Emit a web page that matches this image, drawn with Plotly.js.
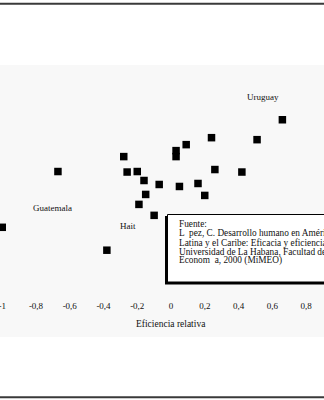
<!DOCTYPE html>
<html>
<head>
<meta charset="utf-8">
<script src="https://cdn.plot.ly/plotly-3.0.1.min.js"></script>
<style>html,body{margin:0;padding:0;background:#fff;}#chart{width:324px;height:400px;}</style>
</head>
<body>
<div id="chart"></div>
<script>
// Eficiencia relativa (x) vs. eficacia (y, arbitrary units)
var eficiencia = [-1.00, -0.67, -0.38, -0.28, -0.26, -0.20, -0.16, -0.15, -0.19, -0.10, -0.07,
                  0.03, 0.03, 0.05, 0.09, 0.16, 0.20, 0.24, 0.26, 0.42, 0.51, 0.66];
var eficacia   = [-0.48, 0.08, -0.71, 0.23, 0.075, 0.08, -0.01, -0.15, -0.25, -0.36, -0.05,
                  0.29, 0.23, -0.07, 0.35, -0.04, -0.16, 0.42, 0.10, 0.075, 0.40, 0.60];
var tickVals   = [-1, -0.8, -0.6, -0.4, -0.2, 0, 0.2, 0.4, 0.6, 0.8];
var tickLabels = ["-1", "-0,8", "-0,6", "-0,4", "-0,2", "0", "0,2", "0,4", "0,6", "0,8"];
var countryLabels = ["Uruguay", "Guatemala", "Hait"];
var sourceLines = [
  "Fuente:",
  "L  pez, C. Desarrollo humano en Am\u00e9rica",
  "Latina y el Caribe: Eficacia y eficiencia",
  "Universidad de La Habana, Facultad de",
  "Econom  a, 2000 (MiMEO)"
];
var axisTitle = "Eficiencia relativa";

// layout geometry (pixels)
var T = 60, B = 299, H = 400;
function py(px) { return (B - px) / (B - T); }
function px2x(p) { return p / 324; }

var serif = "Liberation Serif, Times New Roman, serif";

var annotations = [];
var labelPos = [[0.548, 0.825], [-0.702, -0.289], [-0.255, -0.467]];
countryLabels.forEach(function (t, i) {
  annotations.push({x: labelPos[i][0], y: labelPos[i][1], xref: 'x', yref: 'y', text: t,
    showarrow: false, xanchor: 'center', yanchor: 'middle',
    font: {family: serif, size: 9, color: '#111'}});
});
var lineY = [224, 233.3, 242.5, 251.7, 260.9];
sourceLines.forEach(function (t, i) {
  annotations.push({x: px2x(176.5), y: py(lineY[i]), xref: 'paper', yref: 'paper', text: t,
    showarrow: false, xanchor: 'left', yanchor: 'middle',
    font: {family: serif, size: 9.3, color: '#111'}});
});
annotations.push({x: 0, y: py(323.5), xref: 'x', yref: 'paper', text: axisTitle,
  showarrow: false, xanchor: 'center', yanchor: 'middle',
  font: {family: serif, size: 9.5, color: '#111'}});

var shapes = [
  {type: 'rect', xref: 'paper', yref: 'paper', x0: -0.05, x1: 1.05, y0: py(337), y1: py(65),
   fillcolor: '#f8f8f8', line: {width: 0}, layer: 'below'},
  {type: 'line', xref: 'paper', yref: 'paper', x0: -0.05, x1: 1.05, y0: py(3.7), y1: py(3.7),
   line: {color: '#3a3a3a', width: 2}},
  {type: 'line', xref: 'paper', yref: 'paper', x0: -0.05, x1: 1.05, y0: py(397.3), y1: py(397.3),
   line: {color: '#3a3a3a', width: 2}},
  {type: 'rect', xref: 'paper', yref: 'paper', x0: px2x(165), x1: px2x(340), y0: py(284.5), y1: py(216),
   fillcolor: '#000', line: {width: 0}},
  {type: 'rect', xref: 'paper', yref: 'paper', x0: px2x(167.5), x1: px2x(340), y0: py(282), y1: py(214.5),
   fillcolor: '#fff', line: {color: '#000', width: 1}}
];

var trace = {
  x: eficiencia, y: eficacia, type: 'scatter', mode: 'markers',
  marker: {symbol: 'square', size: 7.5, color: '#000'},
  hoverinfo: 'skip', showlegend: false
};

var layout = {
  width: 324, height: 400,
  margin: {l: 0, r: 0, t: T, b: H - B, pad: 0},
  paper_bgcolor: '#fff', plot_bgcolor: 'rgba(0,0,0,0)',
  separators: ',.',
  xaxis: {range: [-171 / 168.75, 153 / 168.75], tickvals: tickVals, ticktext: tickLabels,
    ticklabeloverflow: 'allow',
    showgrid: false, zeroline: false, showline: false, ticks: '',
    tickfont: {family: serif, size: 9, color: '#111'}, fixedrange: true},
  yaxis: {range: [-1.2, 1.2], visible: false, fixedrange: true},
  shapes: shapes,
  annotations: annotations,
  showlegend: false
};

Plotly.newPlot('chart', [trace], layout, {staticPlot: true, displayModeBar: false});
</script>
</body>
</html>
